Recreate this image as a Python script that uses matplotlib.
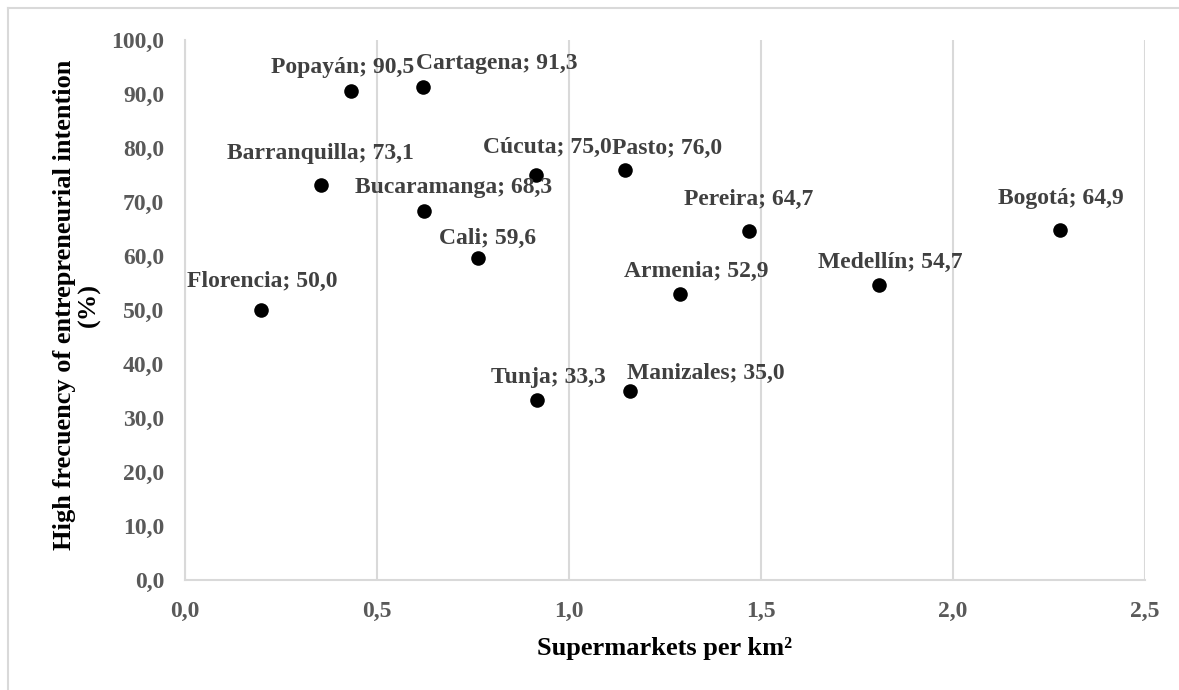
import matplotlib
matplotlib.use("Agg")
import matplotlib.pyplot as plt
from matplotlib.lines import Line2D
from matplotlib.ticker import FuncFormatter

cities = ["Florencia", "Barranquilla", "Popayán", "Cartagena", "Bucaramanga", "Cali",
          "Cúcuta", "Tunja", "Pasto", "Manizales", "Armenia", "Pereira", "Medellín", "Bogotá"]
supermarkets = [0.198, 0.354, 0.432, 0.620, 0.622, 0.763,
                0.914, 0.917, 1.146, 1.159, 1.289, 1.469, 1.807, 2.279]
intention = [50.0, 73.1, 90.5, 91.3, 68.3, 59.6,
             75.0, 33.3, 76.0, 35.0, 52.9, 64.7, 54.7, 64.9]
x_ticks = [0.0, 0.5, 1.0, 1.5, 2.0, 2.5]
y_ticks = [0, 10, 20, 30, 40, 50, 60, 70, 80, 90, 100]

# label placement (pixel offsets of label centre from its point)
label_offsets = [(1, 29), (0, 32), (-8, 24), (74, 23), (30, 24), (10, 20),
                 (11, 28), (11, 23), (42, 21), (76, 18), (16, 23), (0, 31), (11, 22), (1, 31)]

plt.rcParams['font.family'] = ['Liberation Serif', 'DejaVu Serif']

W, H = 1179, 690
fig = plt.figure(figsize=(W / 100, H / 100), dpi=100)
ax = fig.add_axes([185 / W, 1 - 580 / H, (1145 - 185) / W, (580 - 40) / H])

grid_c = "#d9d9d9"
ax.scatter(supermarkets, intention, s=110, color="black", zorder=3, linewidths=0)

def fmt(v):
    return f"{v:.1f}".replace(".", ",")

for name, xv, yv, (dx, dy) in zip(cities, supermarkets, intention, label_offsets):
    ax.annotate(f"{name}; {fmt(yv)}", (xv, yv), xytext=(dx, dy), textcoords="offset pixels",
                ha="center", va="center", fontsize=17, fontweight="bold", color="#404040", zorder=4)

ax.set_xlim(0, 2.5)
ax.set_ylim(0, 100)
ax.set_xticks(x_ticks)
ax.set_yticks(y_ticks)
ax.xaxis.set_major_formatter(FuncFormatter(lambda v, p: fmt(v)))
ax.yaxis.set_major_formatter(FuncFormatter(lambda v, p: fmt(v)))
ax.tick_params(length=0, labelsize=17, labelcolor="#595959")
for lab in ax.get_xticklabels() + ax.get_yticklabels():
    lab.set_fontweight("bold")
ax.tick_params(axis="x", pad=15)
ax.tick_params(axis="y", pad=15)

ax.grid(axis="x", color=grid_c, linewidth=1.5)
ax.grid(axis="y", visible=False)
ax.set_axisbelow(True)
for s in ["top", "right"]:
    ax.spines[s].set_visible(False)
for s in ["left", "bottom"]:
    ax.spines[s].set_color(grid_c)
    ax.spines[s].set_linewidth(1.5)

ax.set_xlabel("Supermarkets per km²", fontsize=19, fontweight="bold", color="black", va="center")
ax.xaxis.set_label_coords(0.5, (580 - 648) / 540)
ax.set_ylabel("High frecuency of entrepreneurial intention\n(%)", fontsize=19,
              fontweight="bold", color="black", linespacing=1.1, va="center")
ax.yaxis.set_label_coords((77 - 185) / 960, 0.51)

# outer chart border (left and top visible)
fig.add_artist(Line2D([8 / W, 8 / W], [0, 1 - 8 / H], transform=fig.transFigure, color=grid_c, lw=1.5))
fig.add_artist(Line2D([8 / W, 1], [1 - 8 / H, 1 - 8 / H], transform=fig.transFigure, color=grid_c, lw=1.5))

fig.savefig("out.png", dpi=100)
